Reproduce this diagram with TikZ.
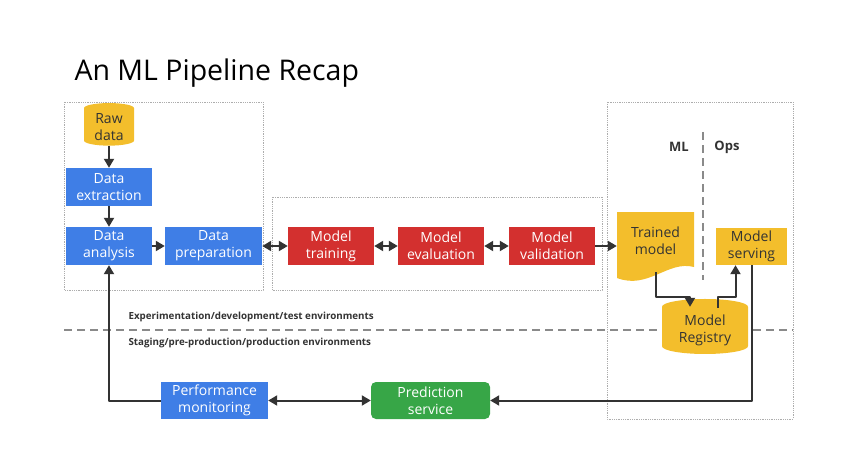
\documentclass[tikz,border=0pt]{standalone}
\usepackage{fontspec}
\setmainfont{Open Sans}
\usetikzlibrary{arrows.meta,shapes.geometric}
\definecolor{gblue}{HTML}{3F7EE6}
\definecolor{gred}{HTML}{D3302F}
\definecolor{gyellow}{HTML}{F3BE2C}
\definecolor{ggreen}{HTML}{37A647}
\definecolor{ink}{HTML}{333333}
\definecolor{rule}{HTML}{8A8A8A}
\tikzset{fig/.style={line join=round,>={Triangle[width=10pt,length=9pt]}},
  box/.style={minimum width=86,minimum height=38,inner sep=0pt,align=center,text=white,
    font=\fontsize{14}{17}\selectfont},
  can/.style={cylinder,shape border rotate=90,fill=gyellow,inner sep=0pt,align=center,
    text=ink,font=\fontsize{14}{17}\selectfont},
  arr/.style={ink,line width=2pt,->},
  arrs/.style={ink,line width=2pt,<->},
  zone/.style={rule!70,densely dotted,line width=0.8pt},
  sep/.style={rule,dashed,dash pattern=on 8pt off 5pt,line width=1.6pt},
  envtxt/.style={anchor=west,ink,font=\bfseries\fontsize{9.8}{12}\selectfont}}
\begin{document}
\begin{tikzpicture}[fig,x=1pt,y=-1pt]
  \useasboundingbox(0,0)rectangle(856,468);
  \node[anchor=west,font=\fontsize{28.5}{32}\selectfont,black]at(71,73){An ML Pipeline Recap};
  % zones
  \draw[zone](64,102)rectangle(263,290);
  \draw[zone](272,197)rectangle(602,290);
  \draw[zone](607,102)rectangle(793,419);
  \draw[sep](64,330)--(793,330);
  \draw[sep](703,132)--(703,280);
  \node[font=\bfseries\fontsize{13}{15}\selectfont,ink]at(679,147){ML};
  \node[font=\bfseries\fontsize{13}{15}\selectfont,ink]at(727,147){Ops};
  \node[envtxt]at(125,317){Experimentation/development/test environments};
  \node[envtxt]at(125,343){Staging/pre-production/production environments};
  % data side
  \node[can,minimum width=50,minimum height=40,aspect=0.35](raw)at(109,127){Raw\\data};
  \node[box,fill=gblue](ext)at(109,187){Data\\extraction};
  \node[box,fill=gblue](ana)at(109,246){Data\\analysis};
  \node[box,fill=gblue,minimum width=97](prep)at(213.5,246){Data\\preparation};
  % model side
  \node[box,fill=gred](train)at(331,246){Model\\training};
  \node[box,fill=gred](eval)at(441,246){Model\\evaluation};
  \node[box,fill=gred](val)at(552,246){Model\\validation};
  % ops side
  \fill[gyellow](617,212)--(694,212)--(694,267)..controls(668,260)and(648,290)..(617,278)--cycle;
  \node[minimum width=77,minimum height=62,inner sep=0pt,align=center,text=ink,
    font=\fontsize{14}{17}\selectfont](trained)at(655.5,241){Trained\\model};
  \node[box,fill=gyellow,text=ink,minimum width=71,minimum height=37](serve)at(751.5,246.5){Model\\serving};
  \node[can,minimum width=86,minimum height=55,aspect=0.3](reg)at(705,330.5){Model\\Registry};
  \node[box,fill=gblue,minimum width=107,minimum height=37](mon)at(214.5,400.5){Performance\\monitoring};
  \node[box,fill=ggreen,minimum width=119,minimum height=37,rounded corners=5pt](pred)at(430.5,400.5){Prediction\\service};
  \coordinate(trunk)at(0,297);
  % connectors
  \draw[arr](raw)--(ext);
  \draw[arr](ext)--(ana);
  \draw[arr](ana)--(prep);
  \draw[arrs](prep)--(train);
  \draw[arrs](train)--(eval);
  \draw[arrs](eval)--(val);
  \draw[arr](val)--(val-|trained.west);
  \draw[arr](trained.south)--(trained.south|-trunk)-|([xshift=-15pt,yshift=-8pt]reg.north);
  \draw[arr]([xshift=13pt,yshift=-9pt]reg.north)--([xshift=13pt]reg.north|-trunk)-|([xshift=-16pt]serve.south);
  \draw[arr](serve.south)|-(pred.east);
  \draw[arrs](mon)--(pred);
  \draw[arr](mon.west)-|(ana.south);
\end{tikzpicture}
\end{document}
